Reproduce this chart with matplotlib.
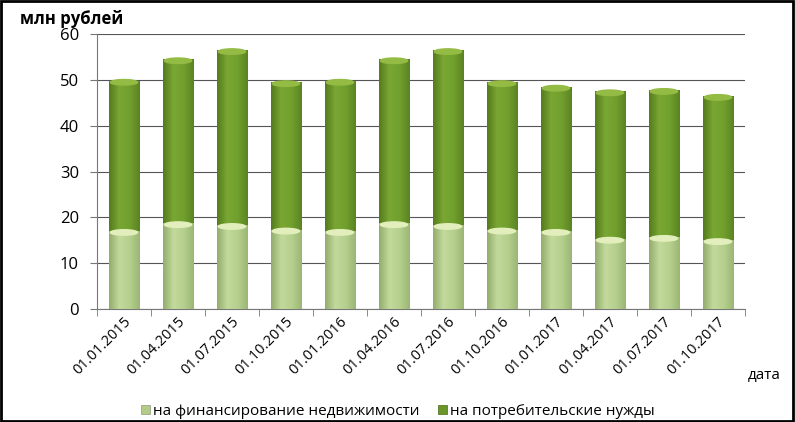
import numpy as np
import matplotlib
matplotlib.use("Agg")
import matplotlib.pyplot as plt
from matplotlib.colors import LinearSegmentedColormap
from matplotlib.patches import Rectangle, Ellipse

dates = ["01.01.2015", "01.04.2015", "01.07.2015", "01.10.2015",
         "01.01.2016", "01.04.2016", "01.07.2016", "01.10.2016",
         "01.01.2017", "01.04.2017", "01.07.2017", "01.10.2017"]
realty = [17.0, 18.7, 18.3, 17.3, 17.0, 18.7, 18.3, 17.3, 17.0, 15.3, 15.7, 15.0]
totals = [49.8, 54.5, 56.5, 49.5, 49.8, 54.5, 56.5, 49.5, 48.5, 47.5, 47.8, 46.5]
consumer = [t - r for t, r in zip(totals, realty)]

name_realty = "на финансирование недвижимости"
name_consumer = "на потребительские нужды"

plt.rcParams['font.family'] = ['Open Sans', 'DejaVu Sans']

fig = plt.figure(figsize=(7.95, 4.22), dpi=100)
ax = fig.add_axes([0.122, 0.268, 0.815, 0.651])

x = np.arange(len(dates))
w = 0.56
light_c = "#b2cc88"
dark_c = "#6b962a"
b1 = ax.bar(x, realty, w, color=light_c, edgecolor="#9aa48a", linewidth=0.6,
            label=name_realty, zorder=3)
b2 = ax.bar(x, consumer, w, bottom=realty, color=dark_c, edgecolor="#5a7a2a",
            linewidth=0.6, label=name_consumer, zorder=3)

cm_light = LinearSegmentedColormap.from_list("l", ["#93ad6c", "#c2d99c", "#b6d08e", "#9cb676"])
cm_dark = LinearSegmentedColormap.from_list("d", ["#557b1d", "#7aa733", "#72a02e", "#5b8421"])
grad = np.linspace(0, 1, 64).reshape(1, -1)
for bars, cm in ((b1, cm_light), (b2, cm_dark)):
    for p in bars:
        x0, y0 = p.get_x(), p.get_y()
        im = ax.imshow(grad, cmap=cm, aspect="auto", zorder=3.5,
                       extent=(x0, x0 + p.get_width(), y0, y0 + p.get_height()))
        im.set_clip_path(p)

# cylinder caps
for i in range(len(dates)):
    ax.add_patch(Ellipse((x[i], realty[i] - 0.3), w * 0.9, 1.2, color="#e2efbc", zorder=4))
    ax.add_patch(Ellipse((x[i], totals[i] - 0.3), w * 0.9, 1.2, color="#94bb44", zorder=4))

ax.set_xlim(-0.5, len(dates) - 0.5)
ax.set_ylim(0, 60)
ax.set_yticks(range(0, 61, 10))
ax.yaxis.grid(True, color="#555555", linewidth=0.8, zorder=0)
ax.set_axisbelow(True)
for s in ("top", "right"):
    ax.spines[s].set_visible(False)
ax.spines["left"].set_color("#777777")
ax.spines["bottom"].set_color("#777777")
ax.tick_params(axis="y", length=5, color="#777777", labelsize=12, pad=8, direction="out")
ax.set_xticks(x)
ax.set_xticklabels(dates, rotation=45, ha="right", rotation_mode="anchor", fontsize=10.5)
ax.tick_params(axis="x", length=0, pad=4)
ax.set_xticks(np.arange(-0.5, len(dates), 1), minor=True)
ax.tick_params(axis="x", which="minor", length=5, color="#777777", direction="out")

fig.text(0.025, 0.955, "млн рублей", fontsize=12, fontweight="bold", ha="left", va="center")
fig.text(0.94, 0.11, "дата", fontsize=11, ha="left", va="center")

leg = fig.legend(handles=[b1, b2], loc="lower center", bbox_to_anchor=(0.5, -0.025),
                 ncol=2, frameon=False, fontsize=11, handlelength=0.6, handleheight=0.6,
                 handletextpad=0.2, columnspacing=1.2)

fig.add_artist(Rectangle((0.001, 0.002), 0.997, 0.996, transform=fig.transFigure,
                         fill=False, edgecolor="black", linewidth=2))

fig.savefig("out.png", dpi=100)
